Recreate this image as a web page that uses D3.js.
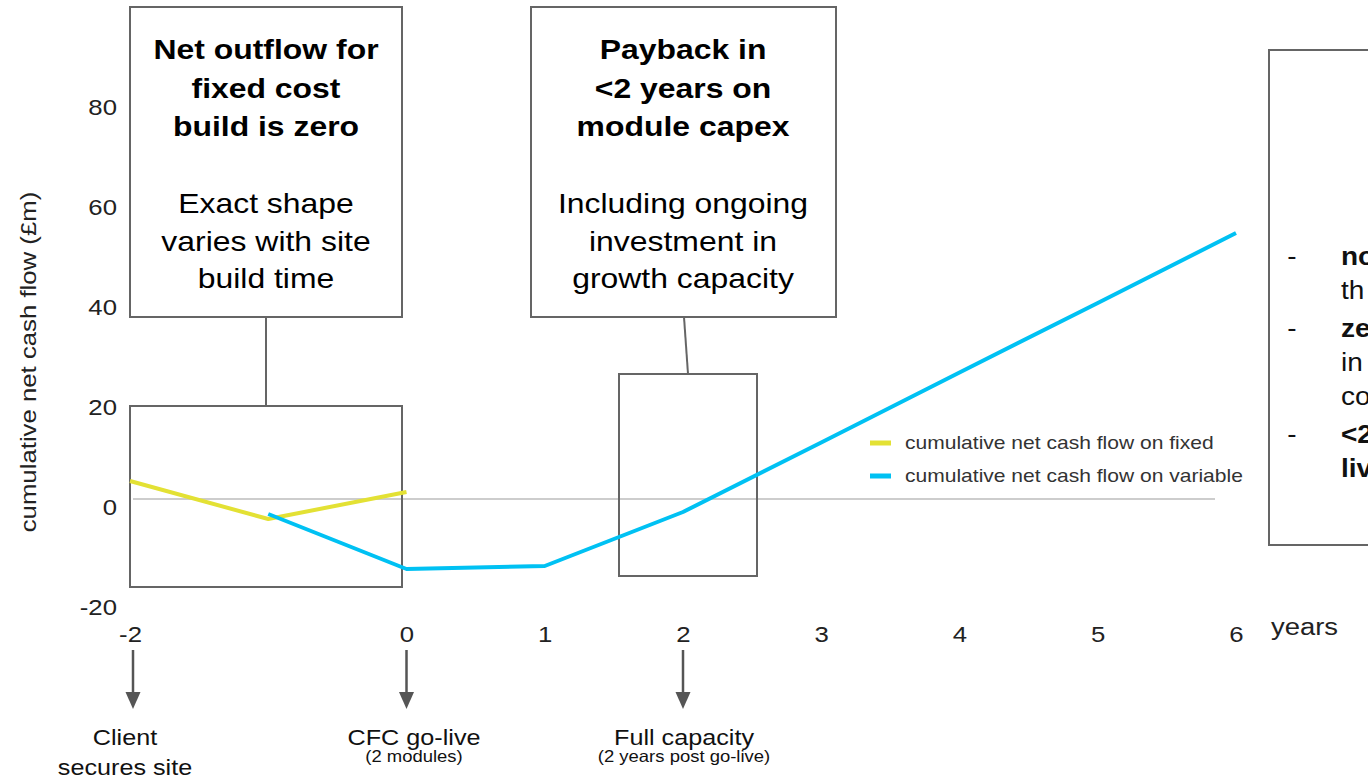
<!DOCTYPE html>
<html>
<head>
<meta charset="utf-8">
<script src="https://cdn.jsdelivr.net/npm/d3@7"></script>
<style>
  html, body { margin: 0; padding: 0; background: #fff; }
  svg { display: block; font-family: "Liberation Sans", Arial, sans-serif; }
</style>
</head>
<body>
<svg id="chart" width="1368" height="778"></svg>
<script>
// ---- data ----
const fixedYears = [-2, -1, 0];
const fixedValues = [3.6, -4.0, 1.4];
const variableYears = [-1, 0, 1, 2, 3, 4, 5, 6];
const variableValues = [-3.0, -14.0, -13.4, -2.6, 11.3, 25.3, 39.2, 53.2];
const xTickValues = [-2, 0, 1, 2, 3, 4, 5, 6];
const yTickValues = [-20, 0, 20, 40, 60, 80];
const seriesNames = ["cumulative net cash flow on fixed", "cumulative net cash flow on variable"];
const seriesColors = ["#e3e134", "#00c1f3"];
const yTitle = "cumulative net cash flow (£m)";
const xTitle = "years";
const box1Bold = ["Net outflow for", "fixed cost", "build is zero"];
const box1Text = ["Exact shape", "varies with site", "build time"];
const box2Bold = ["Payback in", "<2 years on", "module capex"];
const box2Text = ["Including ongoing", "investment in", "growth capacity"];
const milestoneYears = [-2, 0, 2];
const milestoneMain = [["Client", "secures site"], ["CFC go-live"], ["Full capacity"]];
const milestoneSub = [null, "(2 modules)", "(2 years post go-live)"];
const sideRows = [
  { dash: true,  text: "no",  bold: true },
  { dash: false, text: "th",  bold: false },
  { dash: true,  text: "ze",  bold: true },
  { dash: false, text: "in",  bold: false },
  { dash: false, text: "co",  bold: false },
  { dash: true,  text: "<2",  bold: true },
  { dash: false, text: "liv", bold: true }
];

// ---- setup ----
const svg = d3.select("#chart");
const SX = 1.12; // horizontal glyph stretch seen in the reference
const x = d3.scaleLinear().domain([-2, 6]).range([130, 1236]);
const y = d3.scaleLinear().domain([-20, 80]).range([599, 99]);
const fmt = d => String(d); // plain hyphen minus, as in the reference

function txt(g, px, py, s, o) {
  o = o || {};
  const rot = o.rotate || 0;
  return g.append("text")
    .attr("transform", `translate(${px},${py}) rotate(${rot}) scale(${o.sx || SX},1)`)
    .attr("text-anchor", o.anchor || "middle")
    .attr("font-size", o.size || 20)
    .attr("font-weight", o.bold ? "bold" : "normal")
    .attr("fill", o.fill || "#111")
    .text(s);
}

const boxStroke = "#656565";
function rect(x0, y0, x1, y1) {
  svg.append("rect").attr("x", x0).attr("y", y0)
    .attr("width", x1 - x0).attr("height", y1 - y0)
    .attr("fill", "none").attr("stroke", boxStroke).attr("stroke-width", 2);
}

// zero gridline
svg.append("line")
  .attr("x1", x(-2) + 3).attr("x2", x(6) - 21)
  .attr("y1", y(0)).attr("y2", y(0))
  .attr("stroke", "#bcbcbc").attr("stroke-width", 1.6);

// y axis
const gy = svg.append("g").attr("transform", "translate(130,0)")
  .call(d3.axisLeft(y).tickValues(yTickValues).tickSize(0).tickPadding(11.6).tickFormat(fmt));
gy.select(".domain").remove();
gy.selectAll("text")
  .attr("font-family", "Liberation Sans, Arial, sans-serif")
  .attr("font-size", 23).attr("fill", "#222")
  .attr("dy", null).attr("y", 15)
  .attr("transform", `scale(${SX},1)`);

// x axis
const gx = svg.append("g").attr("transform", "translate(0,642)")
  .call(d3.axisBottom(x).tickValues(xTickValues).tickSize(0).tickFormat(fmt));
gx.select(".domain").remove();
gx.selectAll("text")
  .attr("font-family", "Liberation Sans, Arial, sans-serif")
  .attr("font-size", 23).attr("fill", "#222")
  .attr("dy", null).attr("y", 0)
  .attr("transform", `scale(${SX},1)`);

// axis titles
txt(svg, 36, 362, yTitle, { rotate: -90, size: 23, fill: "#222" });
txt(svg, 1271, 635, xTitle, { anchor: "start", size: 24.5, fill: "#222" });

// annotation boxes
rect(130, 7, 402, 317);
svg.append("line").attr("x1", 266).attr("x2", 266).attr("y1", 317).attr("y2", 406)
  .attr("stroke", boxStroke).attr("stroke-width", 2);
rect(130, 406, 402, 587);
rect(531, 7, 836, 317);
svg.append("line").attr("x1", 684).attr("x2", 688).attr("y1", 317).attr("y2", 374)
  .attr("stroke", boxStroke).attr("stroke-width", 2);
rect(619, 374, 757, 576);
rect(1269, 50, 1380, 545);

const boldBase = [59, 97.5, 136];
const textBase = [213, 250.5, 288];
box1Bold.forEach((s, i) => txt(svg, 266, boldBase[i], s, { bold: true, size: 28.5, fill: "#000" }));
box1Text.forEach((s, i) => txt(svg, 266, textBase[i], s, { size: 28.5, fill: "#000" }));
box2Bold.forEach((s, i) => txt(svg, 683, boldBase[i], s, { bold: true, size: 28.5, fill: "#000" }));
box2Text.forEach((s, i) => txt(svg, 683, textBase[i], s, { size: 28.5, fill: "#000" }));

// side text (clipped by the page edge, as in the reference)
const sideBase = [265, 299, 337, 371, 405, 443, 477];
sideRows.forEach((r, i) => {
  if (r.dash) txt(svg, 1292, sideBase[i], "-", { size: 25, fill: "#111" });
  txt(svg, 1341, sideBase[i], r.text, { anchor: "start", size: 25, bold: r.bold, fill: "#111" });
});

// lines
const line = d3.line().x(d => x(d[0])).y(d => y(d[1]));
svg.append("path")
  .datum(fixedYears.map((d, i) => [d, fixedValues[i]]))
  .attr("d", line).attr("fill", "none")
  .attr("stroke", seriesColors[0]).attr("stroke-width", 4).attr("stroke-linejoin", "round");
svg.append("path")
  .datum(variableYears.map((d, i) => [d, variableValues[i]]))
  .attr("d", line).attr("fill", "none")
  .attr("stroke", seriesColors[1]).attr("stroke-width", 4).attr("stroke-linejoin", "round");

// legend
seriesNames.forEach((s, i) => {
  const cy = 443 + i * 33;
  svg.append("rect").attr("x", 870).attr("y", cy - 2.5).attr("width", 21).attr("height", 5)
    .attr("fill", seriesColors[i]);
  txt(svg, 905, cy + 5.5, s, { anchor: "start", size: 18.8, fill: "#333" });
});

// milestone arrows & labels
milestoneYears.forEach((v, i) => {
  const ax = x(v) + (i === 0 ? 3 : 0);
  svg.append("line").attr("x1", ax).attr("x2", ax).attr("y1", 650).attr("y2", 694)
    .attr("stroke", "#555").attr("stroke-width", 2.5);
  svg.append("path")
    .attr("d", `M${ax - 7.5},692 L${ax + 7.5},692 L${ax},709 Z`)
    .attr("fill", "#555");
});
const labelCx = [125, 414, 684];
milestoneMain.forEach((lines, i) => {
  lines.forEach((s, j) => txt(svg, labelCx[i], 745 + j * 29.5, s, { size: 22.5, fill: "#111" }));
  if (milestoneSub[i]) txt(svg, labelCx[i], 762, milestoneSub[i], { size: 16.5, fill: "#111" });
});
</script>
</body>
</html>
